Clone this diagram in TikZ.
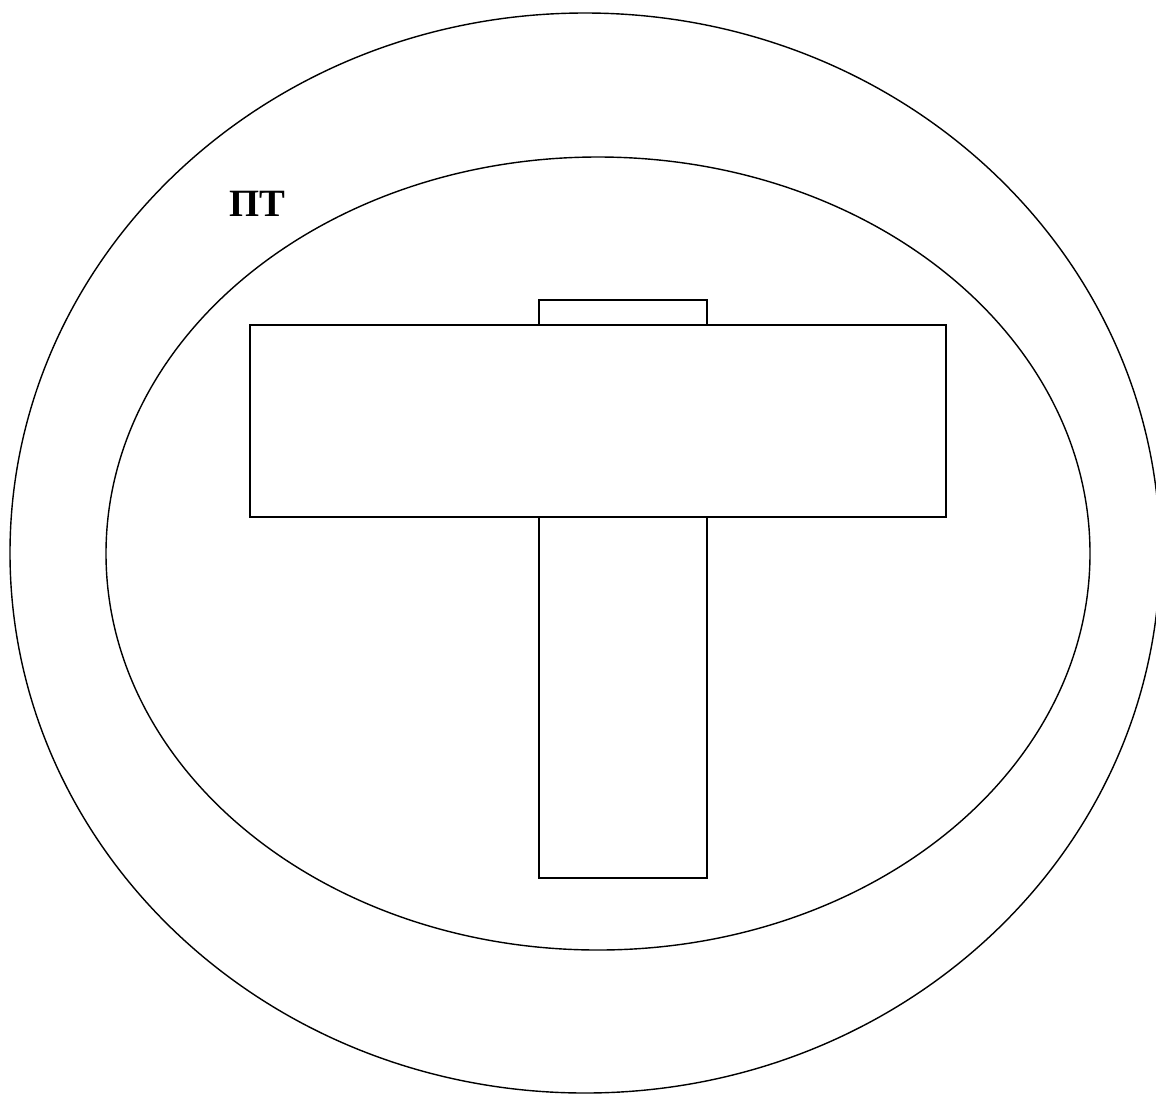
\documentclass[tikz,border=0pt]{standalone}
\usepackage{fontspec}
\setmainfont{Liberation Serif}
\usetikzlibrary{positioning}

\begin{document}
\begin{tikzpicture}[
    x=0.02cm, y=-0.02cm,
    outline/.style={draw=black, line width=0.8pt},
    label_text/.style={font=\bfseries\fontsize{22}{26}\selectfont}
]
\useasboundingbox (0,0) rectangle (1156,1093);

% --- Rings ---
\draw[outline] (585,553) ellipse [x radius=575, y radius=540];
\draw[outline] (598,553.5) ellipse [x radius=492, y radius=396.5];

% Label
\node[label_text] (PT) at (257,204) {ПТ};

% --- The T ---
\draw[outline] (539,300) rectangle (707,325);
\draw[outline] (250,325) rectangle (946,517);
\draw[outline] (539,517) rectangle (707,878);

\end{tikzpicture}
\end{document}
